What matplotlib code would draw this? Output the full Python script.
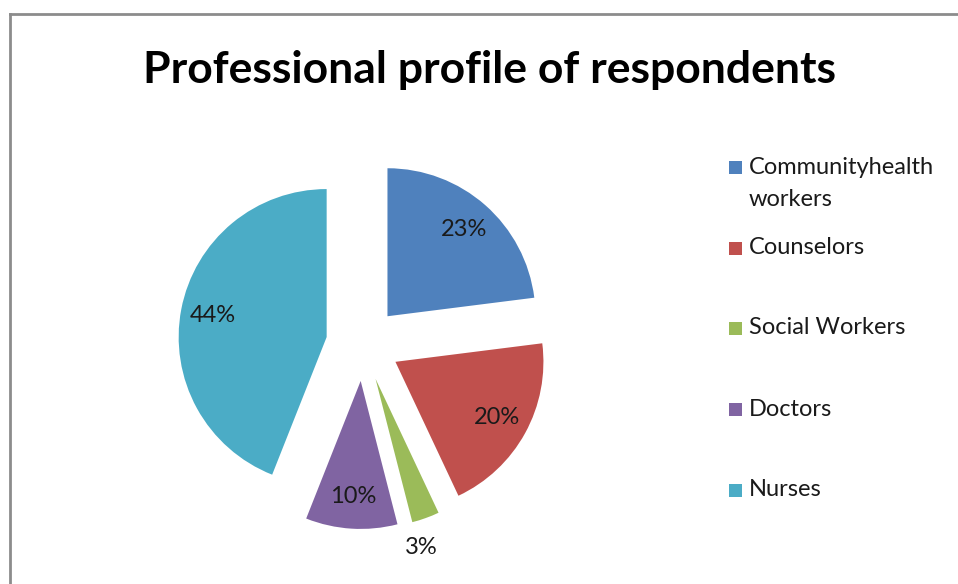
import matplotlib
matplotlib.use("Agg")
import matplotlib.pyplot as plt
import numpy as np
from matplotlib.patches import Rectangle
from matplotlib.lines import Line2D

plt.rcParams['font.family'] = ['Lato', 'DejaVu Sans']

title = "Professional profile of respondents"
categories = ["Communityhealth\nworkers", "Counselors", "Social Workers", "Doctors", "Nurses"]
shares = [23, 20, 3, 10, 44]
colors = ["#4F81BD", "#C0504D", "#9BBB59", "#8064A2", "#4BACC6"]

W, H = 958, 584
fig = plt.figure(figsize=(W / 100, H / 100), dpi=100)
ax = fig.add_axes([0, 0, 1, 1])

# outer chart frame (top and left edges visible)
fig.add_artist(Line2D([10 / W, 10 / W], [0, 1 - 14 / H], transform=fig.transFigure,
                      color="#8c8c8c", lw=2))
fig.add_artist(Line2D([10 / W, 1], [1 - 14 / H, 1 - 14 / H], transform=fig.transFigure,
                      color="#8c8c8c", lw=2))

radius = 148
# every slice pulled out by a quarter of the radius
wedges, texts, autotexts = ax.pie(
    shares, explode=[0.25 * radius] * len(shares), colors=colors, startangle=90,
    counterclock=False, radius=radius, center=(363, H - 344),
    autopct='%.0f%%', pctdistance=0.78,
    wedgeprops=dict(linewidth=0),
    textprops=dict(fontsize=17, color="#1a1a1a"))

ax.set_xlim(0, W)
ax.set_ylim(0, H)
ax.set_aspect('equal')
ax.axis('off')

# the thin slice gets its label outside the wedge
small = shares.index(min(shares))
w = wedges[small]
mid = np.deg2rad((w.theta1 + w.theta2) / 2) - 0.08
cx, cy = w.center
autotexts[small].set_position((cx + 1.18 * radius * np.cos(mid),
                               cy + 1.18 * radius * np.sin(mid)))

ax.text(490, H - 70, title, ha='center', va='center', fontsize=32,
        fontweight='bold', color="black")

# legend
legend_y = [167, 248, 328, 409, 490]
sq = 13
for cat, col, y in zip(categories, colors, legend_y):
    ax.add_patch(Rectangle((729, H - y - sq / 2), sq, sq, color=col, lw=0))
    if '\n' in cat:
        ax.text(749, H - y + 10, cat, ha='left', va='top',
                fontsize=17, color="#1a1a1a", linespacing=1.65)
    else:
        ax.text(749, H - y, cat, ha='left', va='center',
                fontsize=17, color="#1a1a1a")

fig.savefig("out.png", dpi=100)
